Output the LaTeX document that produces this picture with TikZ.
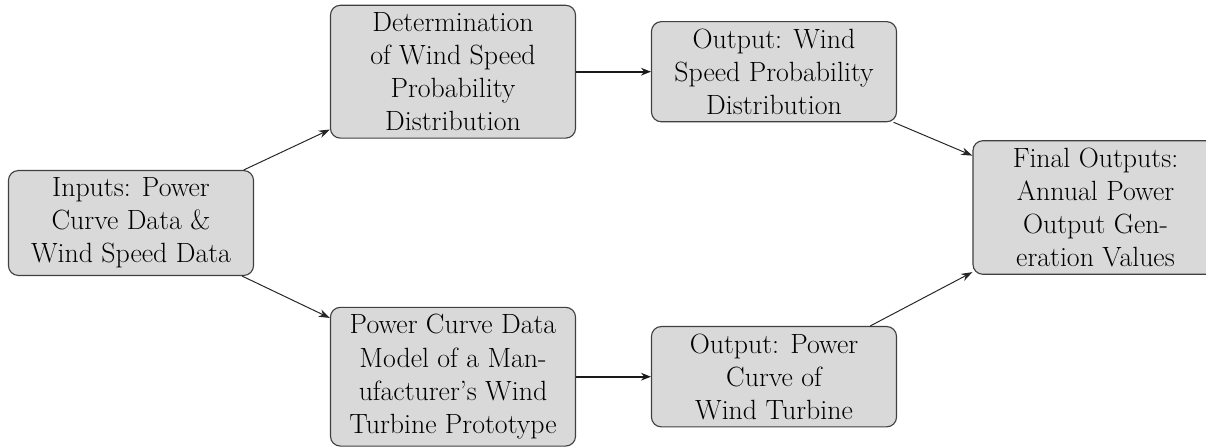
\documentclass[tikz,border=0pt]{standalone}
\usepackage{fontspec}
\usetikzlibrary{arrows.meta}
\tikzset{
  box/.style={draw=black!75, fill=gray!30, rounded corners=7pt, line width=0.8pt,
    align=center, minimum width=6.125cm, inner xsep=4pt, inner ysep=5pt,
    font=\fontsize{19.8}{23.6}\selectfont},
  thinarrow/.style={draw=black!85, line width=0.7pt, -{Stealth[length=8pt,width=5.5pt]}},
  thickarrow/.style={draw=black!90, line width=1.4pt, -{Stealth[length=7pt,width=5.5pt]}}
}
\begin{document}
\begin{tikzpicture}[x=0.025cm, y=-0.025cm]
\useasboundingbox (0,0) rectangle (1206,447);
\node[box] (inp) at (131,223) {Inputs: Power\\Curve Data \&\\Wind Speed Data};
\node[box] (det) at (453,71.7) {Determination\\of Wind Speed\\Probability\\Distribution};
\node[box] (mod) at (453,376.7) {Power Curve Data\\Model of a Man-\\ufacturer's Wind\\Turbine Prototype};
\node[box] (ow) at (774,71.7) {Output: Wind\\Speed Probability\\Distribution};
\node[box] (op) at (774,376.7) {Output: Power\\Curve of\\Wind Turbine};
\node[box] (fin) at (1095.5,207.5) {Final Outputs:\\Annual Power\\Output Gen-\\eration Values};
\draw[thinarrow] (inp) -- (det);
\draw[thinarrow] (inp) -- (mod);
\draw[thickarrow] (det) -- (ow);
\draw[thickarrow] (mod) -- (op);
\draw[thinarrow] (ow) -- (fin);
\draw[thinarrow] (op) -- (fin);
\end{tikzpicture}
\end{document}
